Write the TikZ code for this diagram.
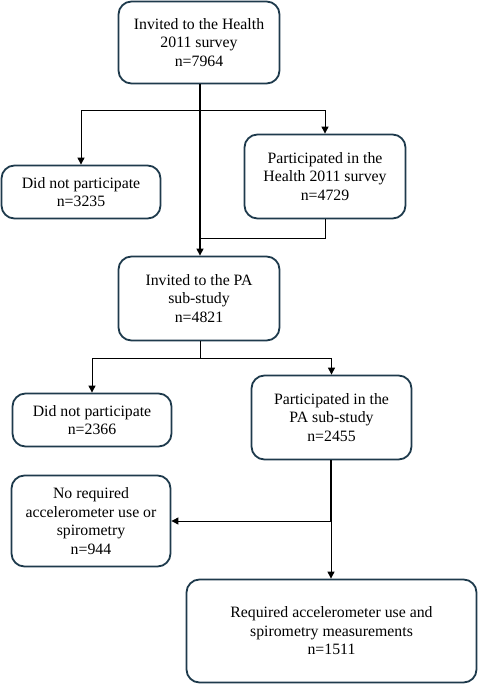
\documentclass[tikz,border=0pt]{standalone}
\usepackage{fontspec}
\setmainfont{Liberation Serif}
\newfontfamily\boxfont{Liberation Serif}
\usetikzlibrary{arrows.meta}
\definecolor{boxline}{HTML}{1E3A4C}
\tikzset{
  x=1pt,y=-1pt,
  fbox/.style={draw=boxline,line width=1.8pt,rounded corners=13pt,align=center,font=\boxfont\fontsize{15.8}{18.5}\selectfont,inner sep=0pt},
  conn/.style={draw=black,line width=1pt},
  arr/.style={conn,-{Triangle[length=7pt,width=7pt]}}
}
\newcommand{\boxat}[6]{\node[fbox,minimum width=#3pt,minimum height=#4pt] (#5) at (#1,#2) {#6};}
\begin{document}
\begin{tikzpicture}
\useasboundingbox (0,0) rectangle (478,685);
% boxes: center x, center y, width, height
\boxat{199}{42.5}{161}{82}{b1}{Invited to the Health\\2011 survey\\n=7964}
\boxat{81}{192}{159}{53}{d1}{Did not participate\\n=3235}
\boxat{325}{176.5}{161}{84}{p1}{Participated in the\\Health 2011 survey\\n=4729}
\boxat{199}{298.5}{161}{84}{b2}{Invited to the PA\\sub-study\\n=4821}
\boxat{92}{420}{159}{53}{d2}{Did not participate\\n=2366}
\boxat{331.5}{417.5}{160}{84}{p2}{Participated in the\\PA sub-study\\n=2455}
\boxat{91}{521}{159}{91}{nr}{No required\\accelerometer use or\\spirometry\\n=944}
\boxat{331.5}{631}{290}{103}{fin}{Required accelerometer use and\\spirometry measurements\\n=1511}
% connectors
\coordinate (j1) at (200,110);
\coordinate (j2) at (200,238);
\coordinate (j3) at (200,358);
\coordinate (j4) at (331,521);
\draw[conn,line width=1.4pt] (b1.south -| j1) -- (j1);
\draw[arr] (j1) -| (d1.north);
\draw[arr] (j1) -| (p1.north);
\draw[arr,line width=1.2pt] (j1) -- (b2.north -| j1);
\draw[conn] (p1.south) |- (j2);
\draw[conn] (b2.south -| j3) -- (j3);
\draw[arr] (j3) -| (d2.north);
\draw[arr] (j3) -| (p2.north);
\draw[conn,line width=1.6pt] (p2.south -| j4) -- (j4);
\draw[arr] (j4) -- (nr.east |- j4);
\draw[arr] (j4) -- (fin.north -| j4);
\end{tikzpicture}
\end{document}
